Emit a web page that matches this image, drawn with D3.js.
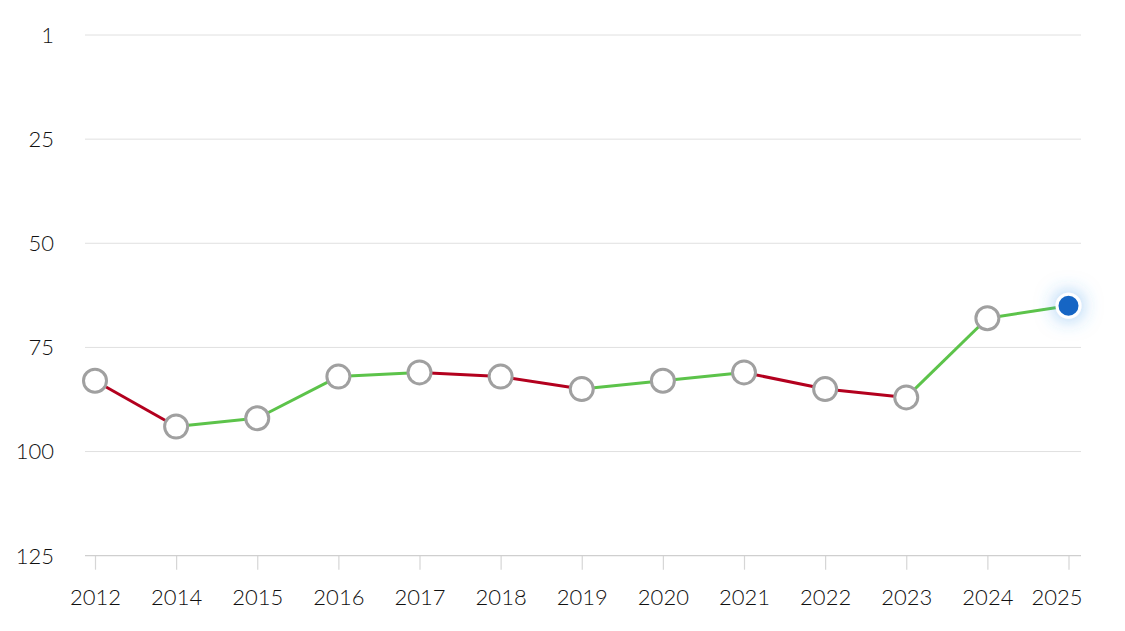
<!DOCTYPE html>
<html><head><meta charset="utf-8">
<script src="https://cdn.jsdelivr.net/npm/d3@7"></script>
<style>
body{margin:0;background:#fff;}
text{font-family:"Lato","Noto Sans",sans-serif;font-weight:300;}
</style></head>
<body><svg id="c" width="1125" height="631"></svg>
<script>
const years = ["2012","2014","2015","2016","2017","2018","2019","2020","2021","2022","2023","2024","2025"];
const ranks = [83,94,92,82,81,82,85,83,81,85,87,68,65];
const yTickValues = [0,25,50,75,100,125];
const yTickLabels = ["1","25","50","75","100","125"];

const svg = d3.select("#c");
const mLeft = 85, mRight = 1081, mTop = 35, mBottom = 555.7;
const x = d3.scalePoint().domain(years).range([95,1068.5]);
const y = d3.scaleLinear().domain([0,125]).range([mTop,mBottom]);

const defs = svg.append("defs");
const f = defs.append("filter").attr("id","glow").attr("x","-250%").attr("y","-250%").attr("width","600%").attr("height","600%");
f.append("feDropShadow").attr("dx",0).attr("dy",0).attr("stdDeviation",10).attr("flood-color","#3a96e8").attr("flood-opacity",0.6);

// gridlines
svg.append("g").selectAll("line").data(yTickValues.slice(0,-1)).join("line")
  .attr("x1",mLeft).attr("x2",mRight).attr("y1",d=>y(d)).attr("y2",d=>y(d))
  .attr("stroke","#e0e0e0").attr("stroke-width",1);
// y labels
svg.append("g").selectAll("text").data(yTickValues).join("text")
  .attr("x",54).attr("y",d=>y(d)).attr("dy","0.36em").attr("text-anchor","end")
  .attr("font-size",22).attr("fill","#111").text((d,i)=>yTickLabels[i]);

// x axis
const xa = svg.append("g").attr("transform",`translate(0,${mBottom})`)
  .call(d3.axisBottom(x).tickSize(14).tickPadding(20));
xa.select(".domain").remove();
xa.selectAll(".tick line").attr("stroke","#d6d6d6").attr("stroke-width",1.2);
xa.selectAll(".tick text").attr("font-size",22).attr("fill","#111")
  .style("font-family","Lato, 'Noto Sans', sans-serif").style("font-weight",300);
xa.selectAll(".tick").filter(d=>d===years[years.length-1]).select("text")
  .attr("text-anchor","end").attr("dx", 1082 - x(years[years.length-1]));
svg.append("line").attr("x1",mLeft).attr("x2",mRight).attr("y1",mBottom).attr("y2",mBottom)
  .attr("stroke","#cfcfcf").attr("stroke-width",1.2);

// segments
const segs = d3.pairs(years.map((yr,i)=>({yr,v:ranks[i]})));
svg.append("g").selectAll("line").data(segs).join("line")
  .attr("x1",d=>x(d[0].yr)).attr("y1",d=>y(d[0].v))
  .attr("x2",d=>x(d[1].yr)).attr("y2",d=>y(d[1].v))
  .attr("stroke",d=>d[1].v>d[0].v?"#b3001e":"#5cc34a").attr("stroke-width",3);

// points
const pts = years.map((yr,i)=>({yr,v:ranks[i],last:i===years.length-1}));
svg.append("g").selectAll("circle").data(pts).join("circle")
  .attr("cx",d=>x(d.yr)).attr("cy",d=>y(d.v)).attr("r",11.5)
  .attr("fill",d=>d.last?"#1565c4":"#fff")
  .attr("stroke",d=>d.last?"#fff":"#a0a0a0").attr("stroke-width",3)
  .attr("filter",d=>d.last?"url(#glow)":null);
</script></body></html>
